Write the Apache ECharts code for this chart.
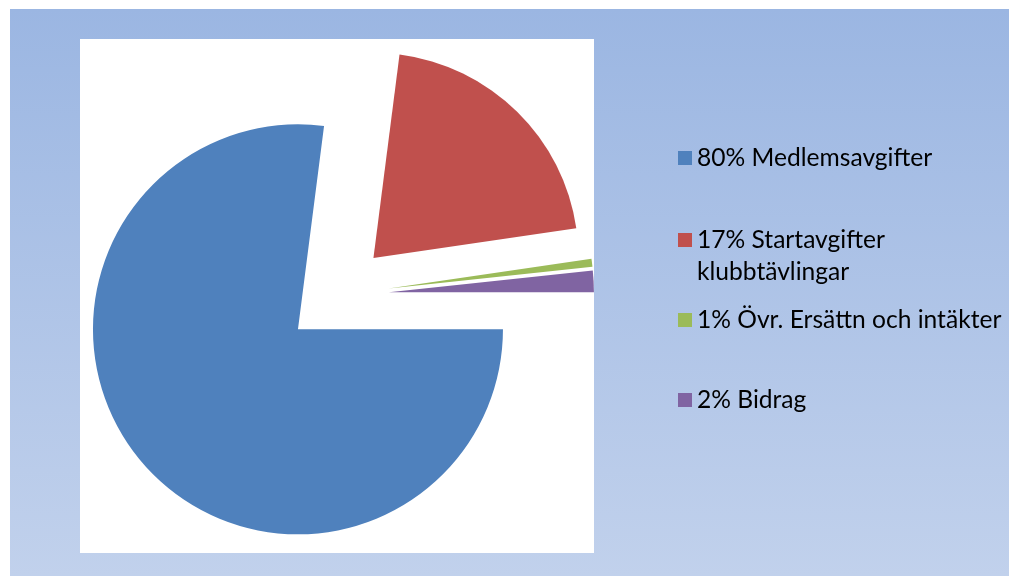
<!DOCTYPE html>
<html>
<head>
<meta charset="utf-8">
<script src="https://cdn.jsdelivr.net/npm/echarts@6/dist/echarts.min.js"></script>
<style>
html,body{margin:0;padding:0;background:#fff;}
#c{width:1010px;height:576px;}
</style>
</head>
<body>
<div id="c"></div>
<script>
var categories = ['80% Medlemsavgifter', '17% Startavgifter\nklubbtävlingar', '1% Övr. Ersättn och intäkter', '2% Bidrag'];
var values = [77.0, 20.65, 0.62, 1.69];
var colors = ['#4f81bd', '#c0504d', '#9bbb59', '#8064a2'];
var legendCenters = [158, 240, 320, 400];

var chart = echarts.init(document.getElementById('c'));
var LH = 32;
var legends = categories.map(function (name, i) {
  var multi = name.indexOf('\n') >= 0;
  return {
    orient: 'vertical',
    left: 678,
    top: legendCenters[i] - (multi ? (LH * 1.5) : LH / 2),
    padding: 0,
    itemWidth: 14,
    itemHeight: 14,
    itemGap: 8,
    icon: 'rect',
    selectedMode: false,
    data: [name],
    formatter: function (n) { return multi ? '\n' + n : n; },
    textStyle: {
      fontFamily: 'Lato',
      fontSize: 24.6,
      color: '#000',
      lineHeight: LH
    }
  };
});

chart.setOption({
  animation: false,
  color: colors,
  graphic: [
    {
      type: 'rect', z: -10, silent: true,
      shape: {x: 10, y: 9, width: 999, height: 567},
      style: {
        fill: new echarts.graphic.LinearGradient(0, 0, 0, 1, [
          {offset: 0, color: '#9bb6e2'},
          {offset: 1, color: '#c1d1ec'}
        ])
      }
    },
    {
      type: 'rect', z: -9, silent: true,
      shape: {x: 80, y: 39, width: 514, height: 514},
      style: {fill: '#ffffff'}
    }
  ],
  legend: legends,
  series: [{
    type: 'pie',
    center: [337, 295],
    radius: 205,
    startAngle: 0,
    clockwise: true,
    selectedMode: 'multiple',
    selectedOffset: 52,
    label: {show: false},
    labelLine: {show: false},
    emphasis: {disabled: true},
    silent: true,
    itemStyle: {borderWidth: 0},
    data: categories.map(function (n, i) {
      return {name: n, value: values[i], selected: true};
    })
  }]
});
</script>
</body>
</html>
